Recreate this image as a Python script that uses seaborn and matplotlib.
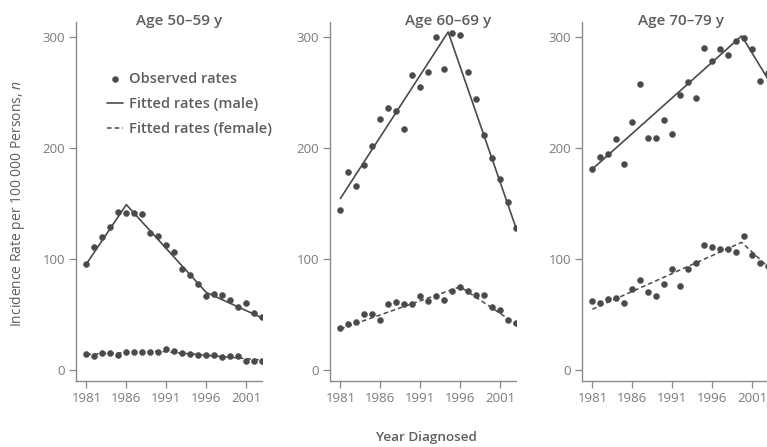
import numpy as np
import pandas as pd
import seaborn as sns
import matplotlib.pyplot as plt

# observed incidence rates per 100 000, 1981-2003
years = list(range(1981, 2004))

obs_male_5059 = [95.5, 110.5, 120, 129, 142.6, 141.7, 141.7, 140.5, 123.7, 120.7, 113, 106.6,
                 91, 86, 77.5, 66.7, 68.5, 67.6, 63, 57, 60, 51.6, 47.5]
obs_female_5059 = [14.4, 12.6, 15, 15, 13.5, 16, 16, 16, 16, 16.5, 18.7, 17.4,
                   15, 14.4, 13.5, 13.5, 13.5, 12, 12.6, 12.6, 8.4, 8.4, 8.4]

obs_male_6069 = [143.9, 178, 165.8, 184.7, 201.8, 225.9, 236, 233.3, 217.5, 265.5, 254.7, 268.8,
                 300.3, 271.5, 304, 301.5, 268.8, 244.5, 211.7, 191.3, 171.8, 151.4, 128.3]
obs_female_6069 = [37.5, 41, 43, 50.5, 50.5, 45, 59.5, 61, 59.5, 59.5, 66.5, 62.5,
                   67, 63.5, 71.5, 74.5, 71.5, 67.5, 67.5, 57, 54, 45.5, 42]

obs_male_7079 = [181, 192, 195, 208, 186, 223, 258, 209, 209, 225, 212.6, 248,
                 259, 245, 290, 278, 289.5, 283.5, 296, 299, 289.5, 260.6, 268]
obs_female_7079 = [62, 60, 64, 65, 60, 73, 81, 70, 66.7, 77.5, 91, 75.7,
                   91, 96, 113, 111, 109, 109, 106, 120.7, 103.6, 96.7, 94]

# fitted joinpoint segments (year, rate)
fit_male_5059 = ([1981, 1986, 1996, 2003], [95.5, 149, 70, 47])
fit_female_5059 = ([1981, 1990, 2003], [14, 17, 9])
fit_male_6069 = ([1981, 1994.5, 2003], [154.5, 304.5, 128])
fit_female_6069 = ([1981, 1996, 2003], [37, 75, 41.5])
fit_male_7079 = ([1981, 1999.7, 2003], [181, 301, 262])
fit_female_7079 = ([1981, 1999.7, 2003], [54.7, 115, 93])

panel_titles = ["Age 50\u201359 y", "Age 60\u201369 y", "Age 70\u201379 y"]
xticks = [1981, 1986, 1991, 1996, 2001]
yticks = [0, 100, 200, 300]

sns.set_style("ticks")
plt.rcParams['font.family'] = ['Open Sans', 'DejaVu Sans']
plt.rcParams['mathtext.fontset'] = 'custom'
plt.rcParams['mathtext.it'] = 'Open Sans:italic'

INK = "#4a4a4a"
AXC = "#8a8a8a"
TXT = "#5e5e5e"

W, H = 767, 447
fig = plt.figure(figsize=(W / 100, H / 100), dpi=100)

panels = [
    (76, obs_male_5059, obs_female_5059, fit_male_5059, fit_female_5059, 0.556),
    (330, obs_male_6069, obs_female_6069, fit_male_6069, fit_female_6069, 0.634),
    (582, obs_male_7079, obs_female_7079, fit_male_7079, fit_female_7079, 0.532),
]

top_px, bot_px, width_px = 22, 381, 186
axes = []
for i, (left, om, of, fm, ff, tx) in enumerate(panels):
    ax = fig.add_axes([left / W, 1 - bot_px / H, width_px / W, (bot_px - top_px) / H])
    axes.append(ax)

    fit_m = pd.DataFrame({"year": fm[0], "rate": fm[1]})
    fit_f = pd.DataFrame({"year": ff[0], "rate": ff[1]})
    sns.lineplot(data=fit_m, x="year", y="rate", ax=ax, color=INK, lw=1.2,
                 sort=False, estimator=None, label="Fitted rates (male)" if i == 0 else None)
    sns.lineplot(data=fit_f, x="year", y="rate", ax=ax, color=INK, lw=1.1,
                 dashes=False, sort=False, estimator=None,
                 label="Fitted rates (female)" if i == 0 else None)
    ax.lines[-1].set_dashes((3, 2))

    obs = pd.DataFrame({"year": years + years, "rate": om + of})
    sns.scatterplot(data=obs, x="year", y="rate", ax=ax, color=INK, s=19,
                    edgecolor=INK, linewidth=0.3, zorder=3,
                    label="Observed rates" if i == 0 else None)

    ax.set_xlim(1979.7, 2003.0)
    ax.set_ylim(-9.9, 313.5)
    ax.set_xticks(xticks)
    ax.set_yticks(yticks)
    ax.set_xlabel("")
    ax.set_ylabel("")
    sns.despine(ax=ax)
    for sp in ["left", "bottom"]:
        ax.spines[sp].set_color(AXC)
        ax.spines[sp].set_linewidth(1.0)
    ax.tick_params(colors=AXC, labelcolor="#7a7a7a", labelsize=9.5, length=5, width=0.9, pad=3)
    ax.text(tx, 0.992, panel_titles[i], transform=ax.transAxes, ha="center", va="baseline",
            fontsize=11, fontweight="semibold", color=TXT)

    if i == 0:
        h, l = ax.get_legend_handles_labels()
        order = [l.index("Observed rates"), l.index("Fitted rates (male)"),
                 l.index("Fitted rates (female)")]
        leg = ax.legend([h[k] for k in order], [l[k] for k in order], loc="upper left",
                        bbox_to_anchor=(0.165, 0.862), frameon=False, fontsize=10.5,
                        handlelength=1.1, handletextpad=0.4, labelspacing=0.78,
                        borderpad=0, borderaxespad=0)
        for t in leg.get_texts():
            t.set_color(TXT)
            t.set_fontweight("semibold")
    else:
        leg = ax.get_legend()
        if leg is not None:
            leg.remove()

fig.text(18 / W, 1 - 204 / H, "Incidence Rate per 100 000 Persons, $n$", rotation=90,
         ha="center", va="center", fontsize=10, color=TXT)
fig.text(426 / W, 1 - 437 / H, "Year Diagnosed", ha="center", va="center",
         fontsize=9.7, fontweight="semibold", color=TXT)

fig.savefig("out.png", dpi=100)
